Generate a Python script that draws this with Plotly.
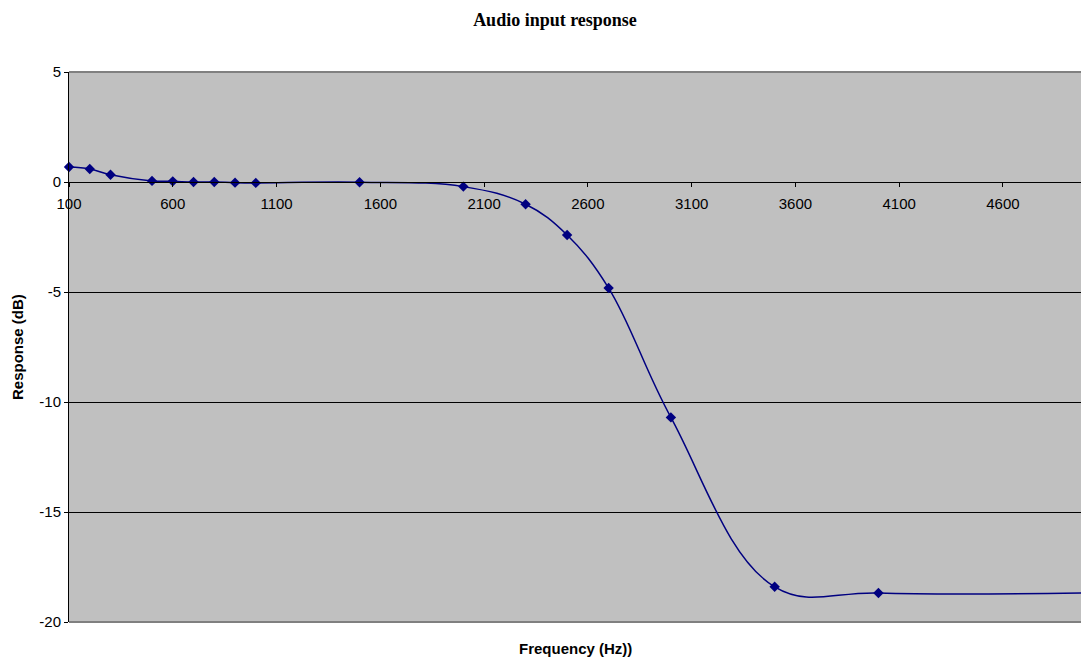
import plotly.graph_objects as go

# Data
freq_hz = [100, 200, 300, 500, 600, 700, 800, 900, 1000, 1500, 2000, 2300, 2500, 2700, 3000, 3500, 4000, 5000]
response_db = [0.68, 0.59, 0.33, 0.05, 0.03, 0.0, 0.0, -0.03, -0.04, -0.01, -0.21, -1.01, -2.41, -4.82, -10.7, -18.4, -18.68, -18.68]

x_ticks = [100, 600, 1100, 1600, 2100, 2600, 3100, 3600, 4100, 4600]
y_ticks = [-20, -15, -10, -5, 0, 5]

NAVY = "#000080"
W, H = 1081, 660
ML, MR, MT, MB = 69, 0, 72, 38

fig = go.Figure()
fig.add_trace(go.Scatter(
    x=freq_hz, y=response_db, mode="lines+markers",
    line=dict(color=NAVY, width=1.5, shape="spline", smoothing=1.1),
    marker=dict(symbol="diamond", size=8, color=NAVY),
    cliponaxis=False, showlegend=False, hoverinfo="x+y",
))

fig.update_layout(
    width=W, height=H,
    margin=dict(l=ML, r=MR, t=MT, b=MB, pad=0),
    paper_bgcolor="white", plot_bgcolor="#C0C0C0",
    font=dict(family="Liberation Sans, Arial, sans-serif", size=15, color="black"),
    title=dict(text="<b>Audio input response</b>",
               font=dict(family="Liberation Serif, Times New Roman, serif", size=18, color="black"),
               x=555 / W, xref="container", xanchor="center",
               y=1 - 20 / H, yref="container", yanchor="middle"),
    xaxis=dict(range=[100, 4976], tickvals=x_ticks, ticktext=[str(v) for v in x_ticks],
               showgrid=False, zeroline=False, showline=True, linecolor="black", linewidth=1,
               ticks="outside", ticklen=4, tickcolor="black", tickwidth=1,
               ticklabelstandoff=4,
               anchor="free", position=0.8, tickfont=dict(size=15)),
    yaxis=dict(range=[-20, 5], tickvals=y_ticks, ticktext=[str(v) for v in y_ticks],
               showgrid=True, gridcolor="black", gridwidth=1, zeroline=False,
               showline=True, linecolor="black", linewidth=1,
               ticks="outside", ticklen=4, tickcolor="black", tickwidth=1,
               tickfont=dict(size=15)),
    shapes=[
        dict(type="line", xref="paper", yref="paper", x0=0, x1=1, y0=1, y1=1,
             line=dict(color="#808080", width=2), layer="above"),
        dict(type="line", xref="paper", yref="paper", x0=0, x1=1, y0=0, y1=0,
             line=dict(color="#808080", width=2), layer="above"),
    ],
    annotations=[
        dict(text="<b>Frequency (Hz))</b>", xref="paper", yref="paper",
             x=0.5, y=-(648 - 622) / 550, xanchor="center", yanchor="middle",
             showarrow=False, font=dict(size=15)),
        dict(text="<b>Response (dB)</b>", xref="paper", yref="paper",
             x=(17 - ML) / (W - ML - MR), y=0.5, xanchor="center", yanchor="middle",
             textangle=-90, showarrow=False, font=dict(size=15)),
    ],
)

fig.write_html("out.html")
